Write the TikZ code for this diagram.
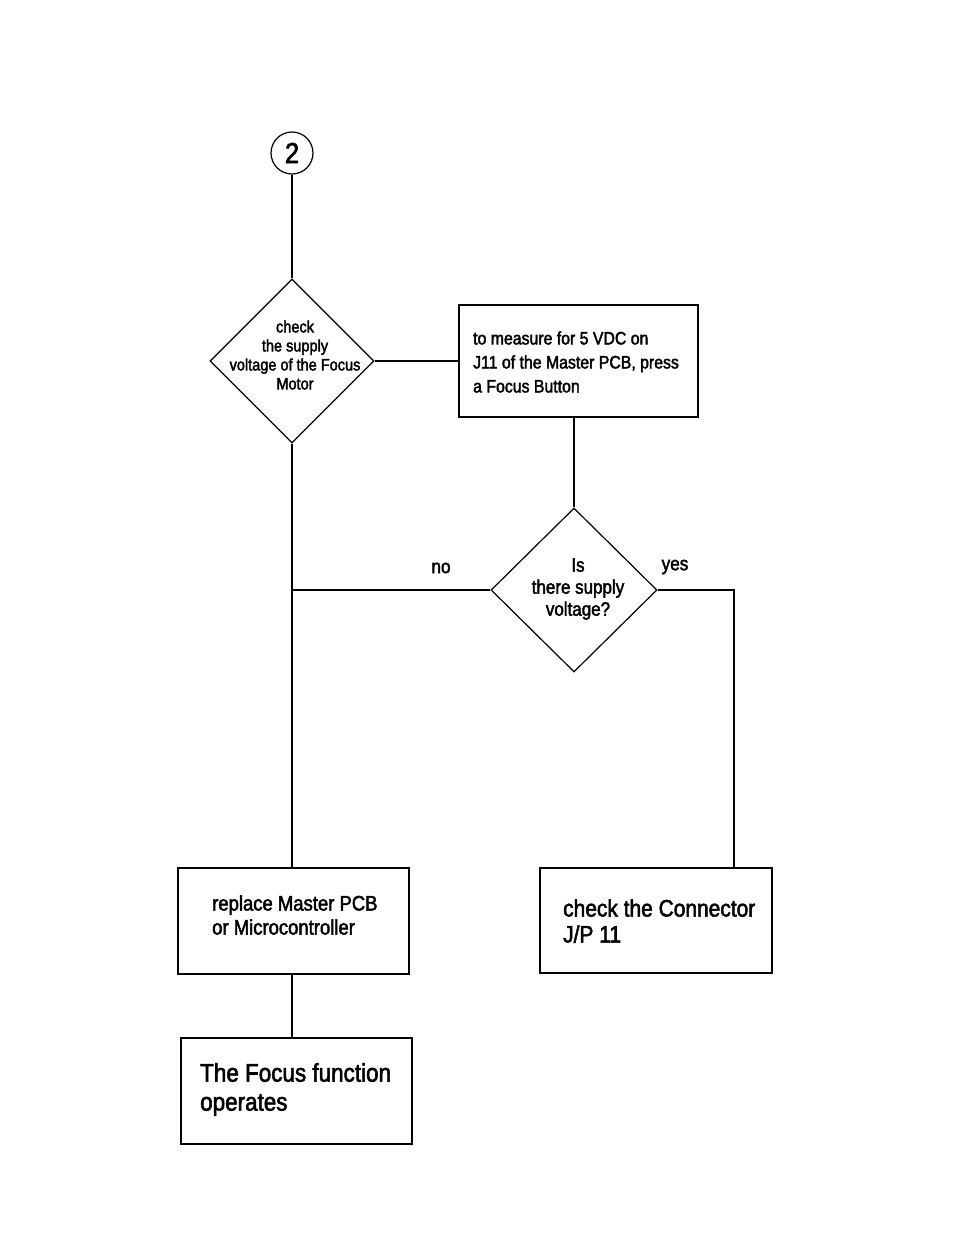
\documentclass[tikz,border=0pt]{standalone}
\usepackage{fontspec}
\setmainfont{Liberation Sans}[FakeStretch=0.88,FakeBold=2.2]
\usetikzlibrary{shapes.geometric}
\begin{document}
\begin{tikzpicture}[x=1pt,y=-1pt,
  line/.style={line width=1.2pt},
  boxnode/.style={draw,line width=1.2pt,rectangle,inner sep=0pt},
  decision/.style={draw,line width=1.2pt,diamond,inner sep=0pt,aspect=1},
  txt/.style={inner sep=0pt}]
\useasboundingbox[fill=white] (0,0) rectangle (954,1235);
% connector circle
\node[draw,line width=1.2pt,circle,minimum size=42pt,inner sep=0pt,font=\fontsize{29}{30}\selectfont] (c2) at (292,153) {2};
% decision 1
\node[decision,minimum width=164pt,minimum height=164pt] (d1) at (292,361) {};
\node[txt,align=center,font=\fontsize{16.5}{19}\selectfont] (d1t) at (295,355) {check\\the supply\\voltage of the Focus\\Motor};
% box 1
\node[boxnode,minimum width=239pt,minimum height=112pt] (b1) at (578.5,361) {};
\node[txt,align=left,anchor=west,font=\fontsize{18}{24}\selectfont] (b1t) at (473,362) {to measure for 5 VDC on\\J11 of the Master PCB, press\\a Focus Button};
% decision 2
\node[decision,minimum width=166pt,minimum height=164pt] (d2) at (574,590) {};
\node[txt,align=center,font=\fontsize{19.3}{22}\selectfont] (d2t) at (578,589) {Is\\there supply\\voltage?};
% box replace
\node[boxnode,minimum width=231pt,minimum height=106pt] (b2) at (293.5,921) {};
\node[txt,align=left,anchor=west,font=\fontsize{21}{24}\selectfont] (b2t) at (212,915) {replace Master PCB\\or Microcontroller};
% box connector
\node[boxnode,minimum width=232pt,minimum height=105pt] (b3) at (656,920.5) {};
\node[txt,align=left,anchor=west,font=\fontsize{23.8}{26}\selectfont] (b3t) at (563,921) {check the Connector\\J/P 11};
% box focus operates
\node[boxnode,minimum width=231pt,minimum height=106pt] (b4) at (296.5,1091) {};
\node[txt,align=left,anchor=west,font=\fontsize{25.5}{29}\selectfont] (b4t) at (200,1089.5) {The Focus function\\operates};
% coordinates
\coordinate (j1) at (292,590);
\coordinate (j2) at (734,590);
% connectors
\draw[line] (c2.south) -- (d1.north);
\draw[line] (d1.east) -- (b1.west);
\draw[line] (b1.south -| d2.north) -- (d2.north);
\draw[line] (d1.south) -- (b2.north -| d1.south);
\draw[line] (d2.west) -- (j1);
\draw[line] (d2.east) -- (j2) -- (j2 |- b3.north);
\draw[line] (b2.south -| d1.south) -- (b4.north -| d1.south);
% labels
\node[txt,font=\fontsize{19.5}{20}\selectfont] (no) at (441,568) {no};
\node[txt,font=\fontsize{19.5}{20}\selectfont] (yes) at (675,567) {yes};
\end{tikzpicture}
\end{document}
